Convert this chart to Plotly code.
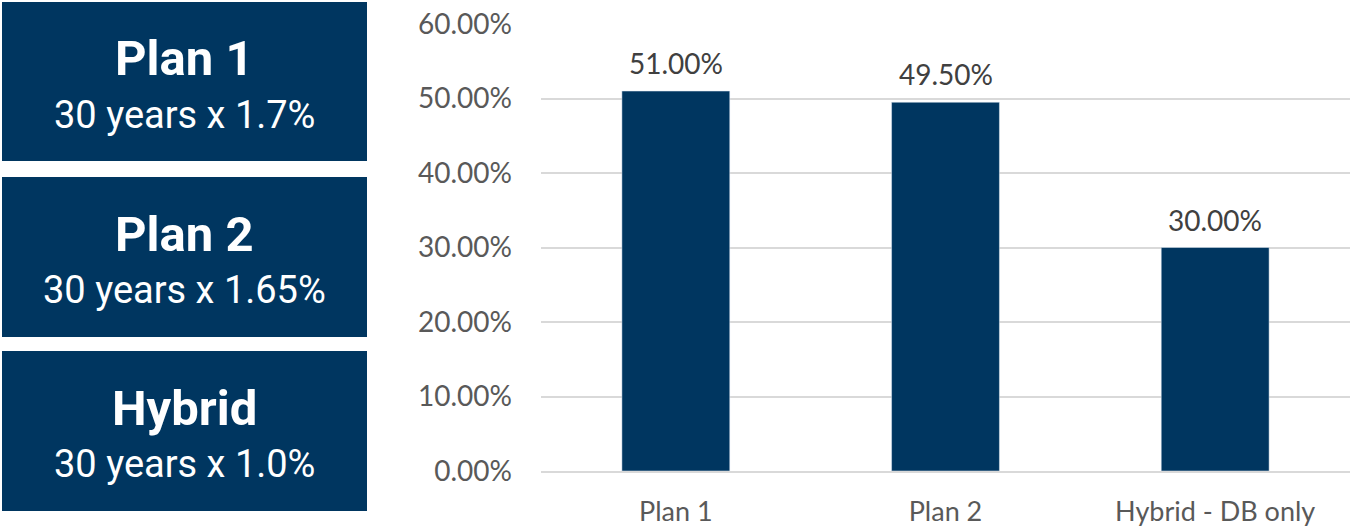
import plotly.graph_objects as go

categories = ["Plan 1", "Plan 2", "Hybrid - DB only"]
values = [0.51, 0.495, 0.30]
box_titles = ["Plan 1", "Plan 2", "Hybrid"]
box_subtitles = ["30 years x 1.7%", "30 years x 1.65%", "30 years x 1.0%"]
y_ticks = [0, 0.1, 0.2, 0.3, 0.4, 0.5, 0.6]

W, H = 1350, 529
NAVY = "#003660"

def px(x):
    return x / W

def py(y):
    return 1 - y / H

fig = go.Figure()
fig.add_trace(go.Bar(
    x=categories, y=values, marker_color=NAVY, width=0.4,
    hoverinfo="skip",
))

# data labels
for c, v in zip(categories, values):
    fig.add_annotation(
        x=c, y=v, text=f"{v*100:.2f}%", showarrow=False,
        yanchor="bottom", yshift=9,
        font=dict(family="Lato", size=28, color="#404040"),
    )

# left boxes
boxes = [(2, 161), (177, 337), (351, 511)]
for (top, bot), t, s in zip(boxes, box_titles, box_subtitles):
    fig.add_shape(type="rect", xref="paper", yref="paper",
                  x0=px(2), x1=px(367), y0=py(bot), y1=py(top),
                  fillcolor=NAVY, line=dict(width=0), layer="below")
    cx = px(184.5)
    fig.add_annotation(xref="paper", yref="paper", x=cx, y=py(top + 57),
                       text=f"<b>{t}</b>", showarrow=False,
                       xanchor="center", yanchor="middle",
                       font=dict(family="Roboto", size=49, color="white"))
    fig.add_annotation(xref="paper", yref="paper", x=cx, y=py(top + 113),
                       text=s, showarrow=False,
                       xanchor="center", yanchor="middle",
                       font=dict(family="Roboto", size=38, color="white"))

fig.update_layout(
    width=W, height=H,
    margin=dict(l=0, r=0, t=0, b=0),
    paper_bgcolor="white", plot_bgcolor="white",
    showlegend=False,
    bargap=0.6,
    xaxis=dict(
        domain=[541 / W, 1.0],
        showgrid=False, showline=True, linecolor="#D9D9D9", linewidth=2,
        tickfont=dict(family="Lato", size=27, color="#595959"),
        ticks="", ticklabelstandoff=16, automargin=False,
        fixedrange=True,
    ),
    yaxis=dict(
        domain=[py(471), py(24)],
        range=[0, 0.6],
        tickvals=y_ticks,
        ticktext=[f"{v*100:.2f}%" for v in y_ticks],
        showgrid=True, gridcolor="#D9D9D9", gridwidth=1.5,
        zeroline=False, showline=False,
        tickfont=dict(family="Lato", size=28, color="#595959"),
        ticks="", ticklabelstandoff=28, automargin=False,
        fixedrange=True,
    ),
)

fig.write_html("out.html",
               config={"displayModeBar": False},
               post_script="document.body.style.margin='0';document.body.style.overflow='hidden';")
